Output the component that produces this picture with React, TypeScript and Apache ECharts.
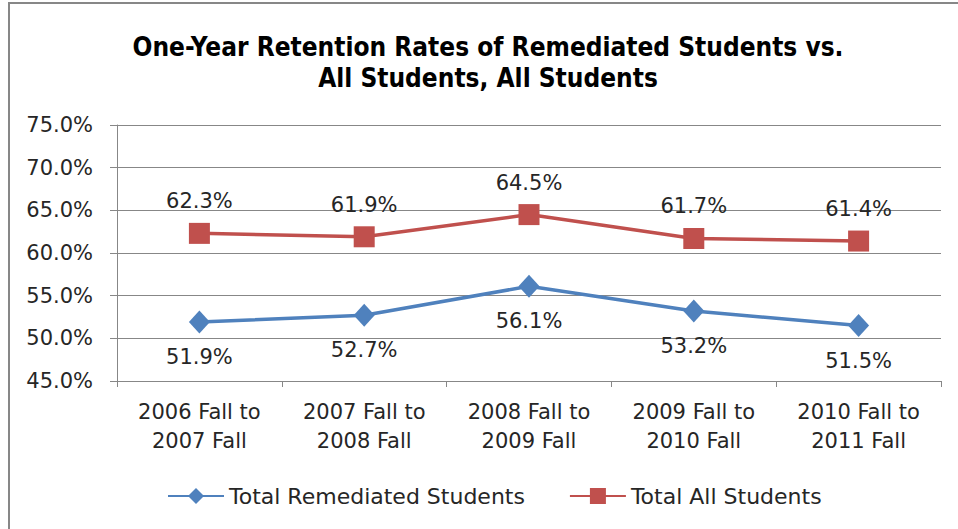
import React, { useEffect, useRef } from "react";
import * as echarts from "echarts";

const categories = [
  "2006 Fall to\n2007 Fall",
  "2007 Fall to\n2008 Fall",
  "2008 Fall to\n2009 Fall",
  "2009 Fall to\n2010 Fall",
  "2010 Fall to\n2011 Fall",
];
const remediated = [51.9, 52.7, 56.1, 53.2, 51.5];
const allStudents = [62.3, 61.9, 64.5, 61.7, 61.4];
const seriesNames = ["Total Remediated Students", "Total All Students"];
const titleText = "One-Year Retention Rates of Remediated Students vs.\nAll Students, All Students";

const FONT = "'DejaVu Sans', sans-serif";
const TEXT = "#262626";
const GRID = "#878787";

export default function App() {
  const ref = useRef<HTMLDivElement>(null);
  useEffect(() => {
    const chart = echarts.init(ref.current!, null, { renderer: "svg" });
    chart.setOption({
      animation: false,
      backgroundColor: "#ffffff",
      graphic: [
        {
          type: "rect",
          shape: { x: 9, y: 3, width: 1000, height: 600 },
          style: { fill: "none", stroke: "#878787", lineWidth: 2 },
          silent: true,
        },
        {
          type: "text",
          x: 488,
          y: 31,
          style: {
            text: titleText,
            textAlign: "center",
            textVerticalAlign: "top",
            fontFamily: "'Liberation Sans Narrow', 'DejaVu Sans Condensed', 'Liberation Sans', sans-serif",
            fontWeight: "bold",
            fontSize: 26,
            lineHeight: 31,
            fill: "#000000",
          },
        },
      ],
      grid: { left: 117, right: 17, top: 125, bottom: 148, containLabel: false },
      legend: {
        left: 162,
        top: 480,
        itemWidth: 56,
        itemHeight: 20,
        itemGap: 44,
        textStyle: { fontFamily: FONT, fontSize: 22, color: TEXT },
        data: seriesNames,
      },
      xAxis: {
        type: "category",
        data: categories,
        boundaryGap: true,
        axisLine: { show: true, lineStyle: { color: GRID, width: 1 } },
        axisTick: { show: true, length: 6, lineStyle: { color: GRID } },
        axisLabel: {
          fontFamily: FONT,
          fontSize: 21,
          color: TEXT,
          lineHeight: 29,
          margin: 16,
          interval: 0,
        },
        splitLine: { show: false },
      },
      yAxis: {
        type: "value",
        min: 45,
        max: 75,
        interval: 5,
        axisLine: { show: true, lineStyle: { color: GRID, width: 1 } },
        axisTick: { show: true, length: 7, lineStyle: { color: GRID } },
        axisLabel: {
          fontFamily: FONT,
          fontSize: 21,
          color: TEXT,
          margin: 24,
          formatter: (v: number) => v.toFixed(1) + "%",
        },
        splitLine: { show: true, lineStyle: { color: GRID, width: 1 } },
      },
      series: [
        {
          name: seriesNames[0],
          type: "line",
          data: remediated,
          symbol: "diamond",
          symbolSize: [21, 23],
          lineStyle: { color: "#4F81BD", width: 3.5 },
          itemStyle: { color: "#4F81BD" },
          label: {
            show: true,
            position: "bottom",
            distance: 13,
            fontFamily: FONT,
            fontSize: 21,
            color: TEXT,
            formatter: (p: any) => p.value.toFixed(1) + "%",
          },
        },
        {
          name: seriesNames[1],
          type: "line",
          data: allStudents,
          symbol: "rect",
          symbolSize: 21,
          lineStyle: { color: "#C0504D", width: 3.5 },
          itemStyle: { color: "#C0504D" },
          label: {
            show: true,
            position: "top",
            distance: 11,
            fontFamily: FONT,
            fontSize: 21,
            color: TEXT,
            formatter: (p: any) => p.value.toFixed(1) + "%",
          },
        },
      ],
    });
    return () => chart.dispose();
  }, []);
  return (
    <div
      ref={ref}
      style={{ position: "fixed", left: 0, top: 0, width: 958, height: 529, background: "#fff" }}
    />
  );
}
